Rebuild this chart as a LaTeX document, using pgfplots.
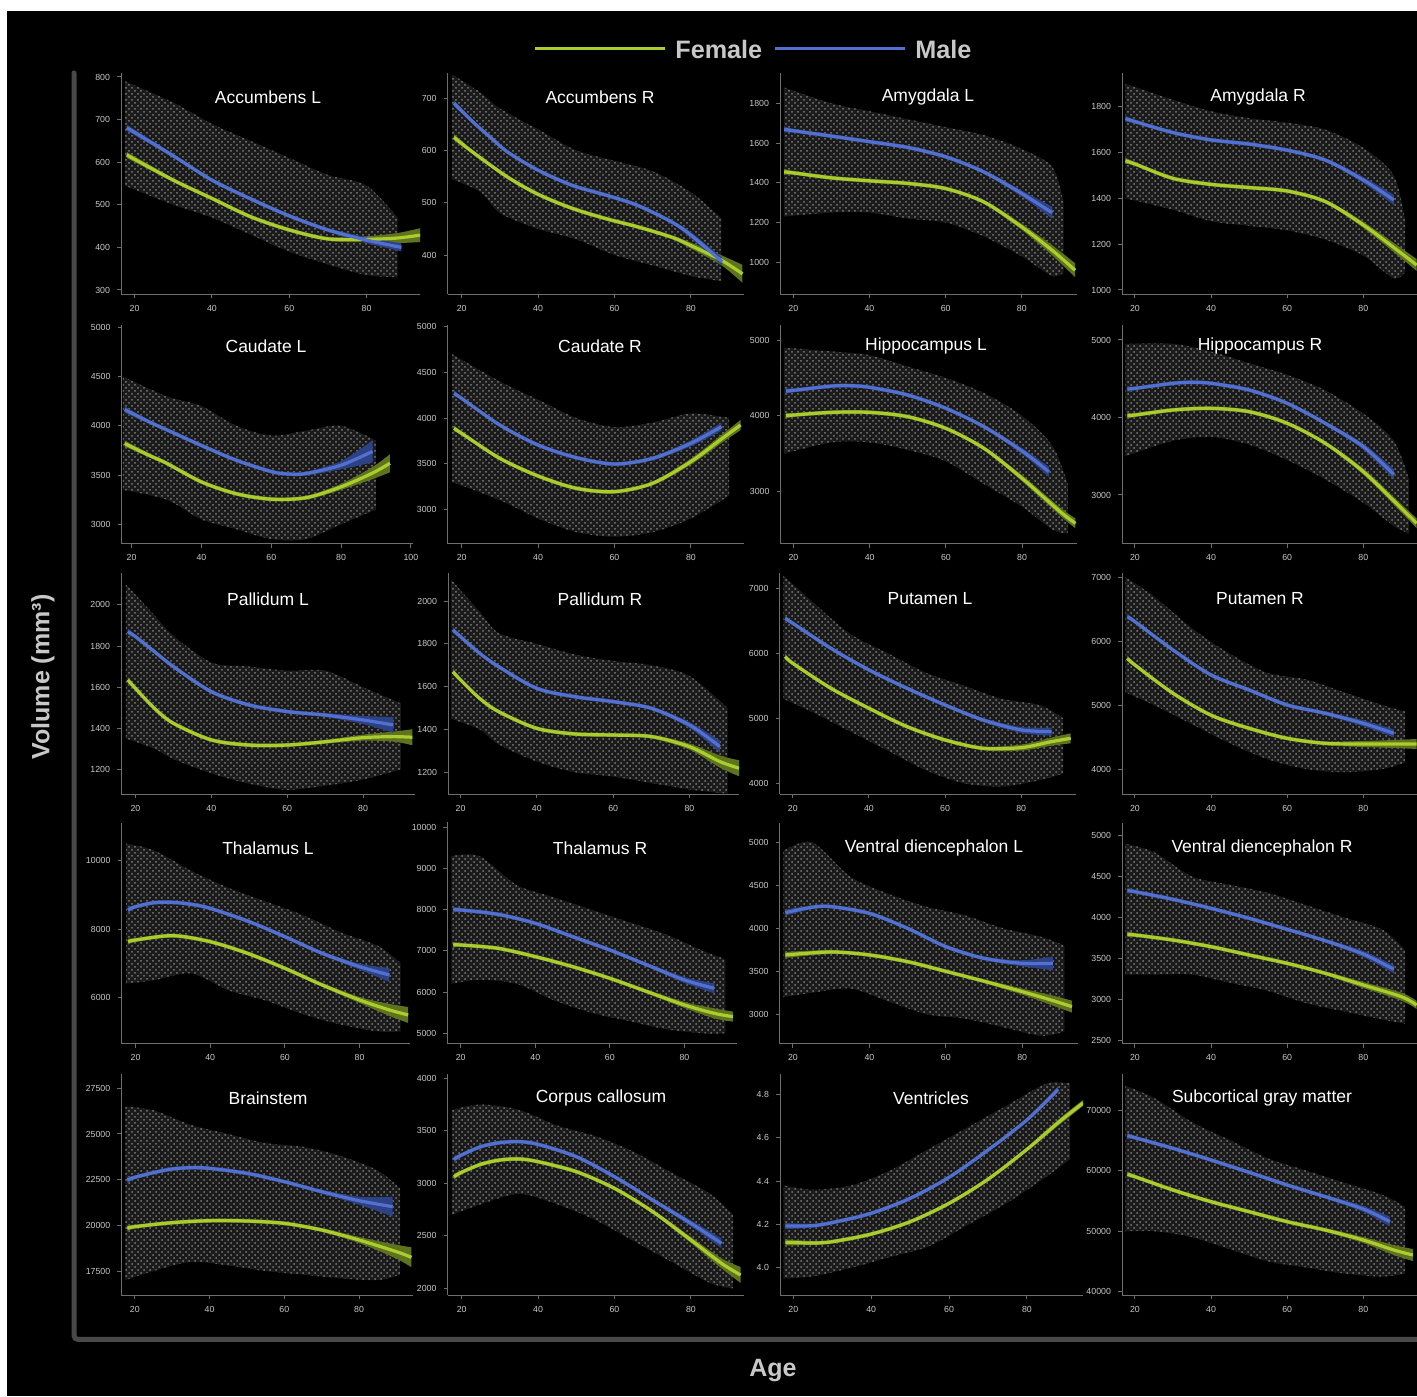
\documentclass[border=0pt]{standalone}
\usepackage{pgfplots}
\pgfplotsset{compat=1.18}
\usepgfplotslibrary{fillbetween}
\usetikzlibrary{patterns}
\usepackage{fontspec}
\setmainfont{Liberation Sans}
\definecolor{fgreen}{RGB}{170,205,45}
\definecolor{mblue}{RGB}{82,112,205}
\definecolor{fband}{RGB}{95,115,30}
\definecolor{mband}{RGB}{45,65,135}
\definecolor{cloudc}{RGB}{26,26,26}
\definecolor{dotc}{RGB}{125,125,125}
\definecolor{axc}{RGB}{110,110,110}
\definecolor{tickc}{RGB}{200,200,200}
\definecolor{framec}{RGB}{72,72,72}
\definecolor{labc}{RGB}{200,200,200}
\pgfplotsset{
 panel/.style={
  scale only axis, anchor=south west,
  axis x line*=bottom, axis y line*=left,
  axis line style={draw=axc, line width=0.5pt, -},
  tick style={draw=axc, line width=0.5pt},
  tick align=outside, major tick length=2pt,
  xtick={20,40,60,80},
  ticklabel style={font=\fontsize{4.4}{5}\selectfont, text=tickc},
  /pgf/number format/assume math mode=true,
  /pgf/number format/1000 sep={},
  scaled ticks=false,
 }
}
\newcommand{\cloud}[1]{%
 \addplot[draw=none, smooth, name path=cL] table[row sep=\\, x=x, y=lo] {#1};
 \addplot[draw=none, smooth, name path=cH] table[row sep=\\, x=x, y=hi] {#1};
 \addplot[fill=cloudc, draw=none, postaction={pattern=crosshatch dots, pattern color=dotc}] fill between[of=cL and cH];
}
\newcommand{\fit}[4]{%
 \addplot[draw=none, smooth, name path=#1U] table[row sep=\\, x=x, y expr=\thisrow{y}+\upp*\thisrow{e}] {#4};
 \addplot[draw=none, smooth, name path=#1L] table[row sep=\\, x=x, y expr=\thisrow{y}-\upp*\thisrow{e}] {#4};
 \addplot[fill=#3, draw=none] fill between[of=#1U and #1L];
 \addplot[draw=#2, line width=1.6pt, smooth] table[row sep=\\, x=x, y=y] {#4};
}
\begin{document}
\pagecolor{black}%
\begin{tikzpicture}
\fill[white] (0,0) rectangle (708.5pt,-5.5pt);
\fill[white] (0,0) rectangle (3.5pt,-698pt);
% frame
\draw[framec, line width=2.5pt, line cap=round, rounded corners=2pt] (37pt,-36.5pt) -- (37pt,-669.7pt) -- (712pt,-669.7pt);
% legend
\draw[fgreen, line width=1.5pt] (267.5pt,-24.5pt) -- (332.5pt,-24.5pt);
\node[anchor=west, inner sep=0pt, text=labc, font=\bfseries\fontsize{12.6}{14}\selectfont] at (337.5pt,-24.5pt) {Female};
\draw[mblue, line width=1.5pt] (387.5pt,-24.5pt) -- (452.5pt,-24.5pt);
\node[anchor=west, inner sep=0pt, text=labc, font=\bfseries\fontsize{12.6}{14}\selectfont] at (457.5pt,-24.5pt) {Male};
% axis labels
\node[rotate=90, text=labc, font=\bfseries\fontsize{12.5}{14}\selectfont] at (21.5pt,-338.5pt) {Volume (mm³)};
\node[text=labc, font=\bfseries\fontsize{12.5}{14}\selectfont] at (386.5pt,-685.5pt) {Age};

% ---------------- Row 1
\begin{axis}[panel, at={(60.5pt,-147pt)}, width=149.5pt, height=110.5pt,
  xmin=16.5, xmax=93.8, ymin=290.6, ymax=809.4, ytick={300,400,...,800}]
\def\upp{2.35}
\cloud{x lo hi\\ 17.5 545 790\\ 30 500 740\\ 40 470 690\\ 50 430 650\\ 60 390 610\\ 70 360 570\\ 80 335 545\\ 88 330 470\\}
\fit{f}{fgreen}{fband}{x y e\\ 18 617 3\\ 30 558 2\\ 40 515 2\\ 50 472 2\\ 60 441 2\\ 70 420 2\\ 80 419 3\\ 88 422 5\\ 94 429 7\\}
\fit{m}{mblue}{mband}{x y e\\ 18 681 3\\ 30 615 2\\ 40 558 2\\ 50 514 2\\ 60 474 2\\ 70 441 2\\ 80 417 3\\ 89 400 4\\}
\end{axis}

\begin{axis}[panel, at={(223.75pt,-147pt)}, width=148.25pt, height=110.5pt,
  xmin=16.3, xmax=93.9, ymin=325.5, ymax=747.8, ytick={400,500,600,700}]
\def\upp{1.91}
\cloud{x lo hi\\ 17.5 545 745\\ 25 520 710\\ 30 480 680\\ 40 450 640\\ 50 430 600\\ 60 400 580\\ 70 380 560\\ 80 360 520\\ 88 350 470\\}
\fit{f}{fgreen}{fband}{x y e\\ 18 625 3\\ 23 596 2\\ 32 549 2\\ 40 516 2\\ 49 489 2\\ 58 469 2\\ 66 454 2\\ 75 434 2\\ 80 418 3\\ 88 390 5\\ 93.5 364 9\\}
\fit{m}{mblue}{mband}{x y e\\ 18 690 3\\ 23 654 2\\ 27.5 625 2\\ 32 597 2\\ 40 562 2\\ 49 533 2\\ 58 514 2\\ 66 495 2\\ 75 463 2\\ 80 438 3\\ 88.2 387 4\\}
\end{axis}

\begin{axis}[panel, at={(390pt,-147pt)}, width=148.5pt, height=110.5pt,
  xmin=16.5, xmax=94.5, ymin=840.5, ymax=1952.5, ytick={1000,1200,...,1800}]
\def\upp{5.03}
\cloud{x lo hi\\ 17.5 1230 1880\\ 30 1250 1800\\ 40 1250 1760\\ 50 1220 1720\\ 60 1200 1680\\ 70 1130 1640\\ 80 1030 1570\\ 88 930 1480\\ 91 950 1300\\}
\fit{f}{fgreen}{fband}{x y e\\ 17.6 1455 3\\ 20 1450 2\\ 30 1425 2\\ 40 1410 2\\ 50 1397 2\\ 60 1371 2\\ 70 1304 2\\ 80 1178 3\\ 88 1060 5\\ 94 960 7\\}
\fit{m}{mblue}{mband}{x y e\\ 17.6 1669 3\\ 20 1662 2\\ 30 1635 2\\ 40 1607 2\\ 50 1578 2\\ 60 1531 2\\ 70 1455 2\\ 80 1346 3\\ 88 1249 6\\}
\end{axis}

\begin{axis}[panel, at={(561pt,-147pt)}, width=147.5pt, height=110.5pt,
  xmin=16.6, xmax=94.1, ymin=982.5, ymax=1947, ytick={1000,1200,...,1800}]
\def\upp{4.37}
\cloud{x lo hi\\ 17.5 1400 1900\\ 30 1350 1830\\ 40 1300 1780\\ 50 1280 1750\\ 60 1260 1730\\ 70 1220 1700\\ 80 1150 1620\\ 88 1050 1500\\ 91 1080 1300\\}
\fit{f}{fgreen}{fband}{x y e\\ 17.5 1564 3\\ 20 1550 2\\ 30 1487 2\\ 40 1461 2\\ 50 1447 2\\ 60 1432 2\\ 70 1386 2\\ 80 1284 3\\ 90 1160 5\\ 94 1109 6\\}
\fit{m}{mblue}{mband}{x y e\\ 17.5 1748 3\\ 20 1735 2\\ 30 1687 2\\ 40 1655 2\\ 50 1637 2\\ 60 1610 2\\ 70 1567 2\\ 80 1480 3\\ 88 1393 5\\}
\end{axis}

% ---------------- Row 2
\begin{axis}[panel, at={(60.75pt,-271.75pt)}, width=145.75pt, height=109.25pt,
  xmin=17.1, xmax=100.6, ymin=2805, ymax=5023, ytick={3000,3500,...,5000}, xtick={20,40,60,80,100}]
\def\upp{10.2}
\cloud{x lo hi\\ 17.5 3350 4500\\ 30 3250 4300\\ 40 3050 4200\\ 50 2950 4000\\ 60 2850 3900\\ 70 2850 3950\\ 80 3000 4000\\ 90 3150 3850\\}
\fit{f}{fgreen}{fband}{x y e\\ 18 3820 3\\ 25 3700 2\\ 30 3620 2\\ 40 3430 2\\ 50 3310 2\\ 60 3255 2\\ 70 3270 2\\ 80 3380 3\\ 89 3520 6\\ 94 3620 9\\}
\fit{m}{mblue}{mband}{x y e\\ 18 4165 3\\ 25 4040 2\\ 30 3960 2\\ 40 3800 2\\ 50 3650 2\\ 60 3535 2\\ 65 3510 2\\ 70 3515 2\\ 80 3600 4\\ 89 3740 11\\}
\end{axis}

\begin{axis}[panel, at={(223.75pt,-271.75pt)}, width=148.25pt, height=109.25pt,
  xmin=16.3, xmax=93.9, ymin=2625.4, ymax=5018.6, ytick={3000,3500,...,5000}]
\def\upp{11}
\cloud{x lo hi\\ 17.5 3300 4700\\ 30 3100 4400\\ 40 2900 4200\\ 50 2750 4000\\ 60 2700 3900\\ 70 2750 3950\\ 80 2900 4050\\ 90 3150 4000\\}
\fit{f}{fgreen}{fband}{x y e\\ 18 3887 3\\ 20 3832 2\\ 30 3558 2\\ 40 3365 2\\ 50 3230 2\\ 60 3193 2\\ 70 3285 2\\ 80 3522 3\\ 88 3770 4\\ 93 3923 5\\}
\fit{m}{mblue}{mband}{x y e\\ 18 4270 3\\ 20 4215 2\\ 30 3923 2\\ 40 3704 2\\ 50 3566 2\\ 60 3496 2\\ 70 3558 2\\ 80 3723 3\\ 88 3905 4\\}
\end{axis}

\begin{axis}[panel, at={(390.25pt,-271.75pt)}, width=148.25pt, height=109.25pt,
  xmin=16.6, xmax=94.4, ymin=2317, ymax=5198, ytick={3000,4000,5000}]
\def\upp{13.2}
\cloud{x lo hi\\ 17.5 3500 4900\\ 30 3650 4850\\ 40 3650 4800\\ 50 3550 4650\\ 60 3400 4500\\ 70 3100 4300\\ 80 2800 4000\\ 88 2500 3600\\ 92 2450 3100\\}
\fit{f}{fgreen}{fband}{x y e\\ 18 4002 3\\ 20 4011 2\\ 30 4046 2\\ 40 4046 2\\ 50 3989 2\\ 60 3835 2\\ 70 3571 2\\ 80 3176 3\\ 90 2736 4\\ 94 2582 5\\}
\fit{m}{mblue}{mband}{x y e\\ 18 4327 3\\ 20 4336 2\\ 30 4393 2\\ 35 4398 2\\ 40 4376 2\\ 50 4275 2\\ 60 4099 2\\ 70 3857 2\\ 80 3536 3\\ 87 3264 5\\}
\end{axis}

\begin{axis}[panel, at={(561pt,-271.75pt)}, width=147.5pt, height=109.25pt,
  xmin=16.6, xmax=94.1, ymin=2374, ymax=5193.5, ytick={3000,4000,5000}]
\def\upp{12.9}
\cloud{x lo hi\\ 17.5 3500 4950\\ 30 3700 4950\\ 40 3750 4850\\ 50 3650 4700\\ 60 3450 4550\\ 70 3200 4350\\ 80 2900 4050\\ 88 2600 3700\\ 92 2500 3200\\}
\fit{f}{fgreen}{fband}{x y e\\ 18 4024 3\\ 20 4032 2\\ 30 4097 2\\ 40 4118 2\\ 50 4075 2\\ 60 3925 2\\ 70 3667 2\\ 80 3301 3\\ 90 2828 4\\ 94 2634 5\\}
\fit{m}{mblue}{mband}{x y e\\ 18 4368 3\\ 20 4376 2\\ 30 4441 2\\ 35 4454 2\\ 40 4441 2\\ 50 4355 2\\ 60 4183 2\\ 70 3925 2\\ 80 3624 3\\ 88 3267 5\\}
\end{axis}

% ---------------- Row 3
\begin{axis}[panel, at={(60.5pt,-397pt)}, width=147pt, height=110.35pt,
  xmin=16.2, xmax=93.7, ymin=1079.7, ymax=2154, ytick={1200,1400,...,2000}]
\def\upp{4.87}
\cloud{x lo hi\\ 17.5 1350 2100\\ 25 1300 1950\\ 30 1250 1850\\ 40 1180 1720\\ 50 1130 1700\\ 60 1100 1680\\ 70 1120 1680\\ 80 1150 1600\\ 90 1200 1520\\}
\fit{f}{fgreen}{fband}{x y e\\ 18 1635 3\\ 20 1594 2\\ 25 1497 2\\ 30 1424 2\\ 40 1343 2\\ 50 1318 2\\ 60 1318 2\\ 70 1334 2\\ 80 1354 3\\ 88 1359 5\\ 93 1356 8\\}
\fit{m}{mblue}{mband}{x y e\\ 18 1870 3\\ 20 1846 2\\ 25 1773 2\\ 30 1700 2\\ 40 1578 2\\ 50 1513 2\\ 60 1481 2\\ 70 1464 2\\ 80 1440 4\\ 88 1416 8\\}
\end{axis}

\begin{axis}[panel, at={(224pt,-397pt)}, width=145.5pt, height=110.35pt,
  xmin=16.7, xmax=93.0, ymin=1098.6, ymax=2129.4, ytick={1200,1400,...,2000}]
\def\upp{4.67}
\cloud{x lo hi\\ 17.5 1450 2100\\ 25 1400 1950\\ 30 1330 1850\\ 40 1250 1800\\ 50 1200 1750\\ 60 1180 1720\\ 70 1150 1700\\ 80 1120 1650\\ 90 1100 1500\\}
\fit{f}{fgreen}{fband}{x y e\\ 18 1670 3\\ 20 1631 2\\ 25 1545 2\\ 30 1483 2\\ 40 1405 2\\ 50 1379 2\\ 60 1374 2\\ 70 1367 2\\ 80 1320 3\\ 88 1250 6\\ 93 1219 8\\}
\fit{m}{mblue}{mband}{x y e\\ 18 1865 3\\ 20 1833 2\\ 25 1756 2\\ 30 1693 2\\ 40 1592 2\\ 50 1553 2\\ 60 1530 2\\ 70 1499 2\\ 80 1421 3\\ 88 1320 6\\}
\end{axis}

\begin{axis}[panel, at={(389.75pt,-397pt)}, width=148.25pt, height=110.35pt,
  xmin=16.5, xmax=94.4, ymin=3835, ymax=7231, ytick={4000,5000,6000,7000}]
\def\upp{15.4}
\cloud{x lo hi\\ 17.5 5300 7200\\ 25 5100 6800\\ 35 4800 6300\\ 45 4500 6000\\ 55 4200 5700\\ 65 4000 5500\\ 75 3950 5300\\ 85 4050 5200\\ 91 4150 5000\\}
\fit{f}{fgreen}{fband}{x y e\\ 18 5949 3\\ 20 5846 2\\ 30 5462 2\\ 40 5154 2\\ 50 4872 2\\ 60 4667 2\\ 70 4538 2\\ 80 4549 3\\ 88 4641 4\\ 93 4692 5\\}
\fit{m}{mblue}{mband}{x y e\\ 18 6538 3\\ 20 6462 2\\ 30 6077 2\\ 40 5744 2\\ 50 5462 2\\ 60 5205 2\\ 70 4974 2\\ 80 4821 3\\ 88 4795 4\\}
\end{axis}

\begin{axis}[panel, at={(561pt,-397pt)}, width=147.5pt, height=110.35pt,
  xmin=16.6, xmax=94.1, ymin=3609, ymax=7062.6, ytick={4000,5000,6000,7000}]
\def\upp{15.6}
\cloud{x lo hi\\ 17.5 5200 7000\\ 25 5000 6700\\ 35 4700 6200\\ 45 4400 5800\\ 55 4150 5500\\ 65 4000 5400\\ 75 3950 5200\\ 85 4000 5000\\ 91 4100 4900\\}
\fit{f}{fgreen}{fband}{x y e\\ 18 5732 3\\ 20 5628 2\\ 30 5185 2\\ 40 4842 2\\ 50 4637 2\\ 60 4480 2\\ 70 4402 2\\ 80 4392 3\\ 88 4392 4\\ 94 4392 5\\}
\fit{m}{mblue}{mband}{x y e\\ 18 6384 3\\ 20 6306 2\\ 30 5863 2\\ 40 5472 2\\ 50 5237 2\\ 60 5002 2\\ 70 4872 2\\ 80 4715 3\\ 88 4559 4\\}
\end{axis}

% ---------------- Row 4
\begin{axis}[panel, at={(60.75pt,-521.75pt)}, width=144.25pt, height=110.5pt,
  xmin=16.25, xmax=93.5, ymin=4647, ymax=11118.6, ytick={6000,8000,10000}]
\def\upp{29.3}
\cloud{x lo hi\\ 17.5 6400 10500\\ 25 6500 10300\\ 35 6700 9700\\ 45 6200 9200\\ 55 5900 8800\\ 65 5500 8400\\ 75 5200 7900\\ 85 5000 7500\\ 91 5000 7000\\}
\fit{f}{fgreen}{fband}{x y e\\ 18 7629 3\\ 20 7678 2\\ 30 7805 2\\ 40 7629 2\\ 50 7288 2\\ 60 6849 2\\ 70 6361 2\\ 80 5922 3\\ 88 5629 6\\ 93 5483 8\\}
\fit{m}{mblue}{mband}{x y e\\ 18 8556 3\\ 20 8654 2\\ 25 8771 2\\ 30 8780 2\\ 35 8722 2\\ 40 8605 2\\ 50 8234 2\\ 60 7776 2\\ 70 7288 2\\ 80 6898 3\\ 88 6654 7\\}
\end{axis}

\begin{axis}[panel, at={(223.65pt,-521.75pt)}, width=144.85pt, height=110.5pt,
  xmin=16.4, xmax=94.1, ymin=4752.4, ymax=10116.5, ytick={5000,6000,...,10000}]
\def\upp{24.3}
\cloud{x lo hi\\ 17.5 6200 9300\\ 25 6300 9300\\ 35 6200 8600\\ 45 5800 8300\\ 55 5500 8000\\ 65 5300 7700\\ 75 5100 7400\\ 85 5000 7000\\ 91 5000 6800\\}
\fit{f}{fgreen}{fband}{x y e\\ 18 7144 3\\ 20 7144 2\\ 30 7063 2\\ 40 6861 2\\ 50 6618 2\\ 60 6335 2\\ 70 6011 2\\ 80 5688 3\\ 88 5485 5\\ 93 5405 5\\}
\fit{m}{mblue}{mband}{x y e\\ 18 7994 3\\ 20 7994 2\\ 30 7888 2\\ 40 7670 2\\ 50 7346 2\\ 60 7023 2\\ 70 6659 2\\ 80 6294 3\\ 88 6092 5\\}
\end{axis}

\begin{axis}[panel, at={(389.8pt,-521.75pt)}, width=149.2pt, height=110.5pt,
  xmin=16.5, xmax=94.6, ymin=2660.5, ymax=5230, ytick={3000,3500,...,5000}]
\def\upp{11.6}
\cloud{x lo hi\\ 17.5 3200 4900\\ 25 3250 5000\\ 35 3300 4600\\ 45 3150 4400\\ 55 3000 4250\\ 65 2950 4150\\ 75 2850 4000\\ 85 2750 3900\\ 91 2800 3800\\}
\fit{f}{fgreen}{fband}{x y e\\ 18 3690 3\\ 30 3725 2\\ 40 3690 2\\ 50 3612 2\\ 60 3500 2\\ 70 3385 2\\ 80 3264 3\\ 88 3160 5\\ 93 3089 6\\}
\fit{m}{mblue}{mband}{x y e\\ 18 4182 3\\ 25 4245 2\\ 30 4252 2\\ 40 4174 2\\ 50 4000 2\\ 60 3787 2\\ 70 3651 2\\ 80 3593 3\\ 88 3593 7\\}
\end{axis}

\begin{axis}[panel, at={(561pt,-521.75pt)}, width=147.5pt, height=110.5pt,
  xmin=16.6, xmax=94.1, ymin=2457, ymax=5161.5, ytick={2500,3000,...,5000}]
\def\upp{12.2}
\cloud{x lo hi\\ 17.5 3300 4900\\ 25 3300 4800\\ 35 3300 4500\\ 45 3200 4400\\ 55 3100 4300\\ 65 2950 4150\\ 75 2850 4000\\ 85 2750 3850\\ 91 2700 3600\\}
\fit{f}{fgreen}{fband}{x y e\\ 18 3793 3\\ 20 3785 2\\ 30 3723 2\\ 40 3642 2\\ 50 3540 2\\ 60 3438 2\\ 70 3316 2\\ 80 3173 3\\ 90 3030 4\\ 94 2928 4\\}
\fit{m}{mblue}{mband}{x y e\\ 18 4327 3\\ 20 4315 2\\ 30 4221 2\\ 40 4111 2\\ 50 3989 2\\ 60 3854 2\\ 70 3715 2\\ 80 3552 3\\ 88 3365 4\\}
\end{axis}

% ---------------- Row 5
\begin{axis}[panel, at={(60.65pt,-647.5pt)}, width=146pt, height=110.5pt,
  xmin=16.4, xmax=94.5, ymin=16186, ymax=28283, ytick={17500,20000,...,27500}]
\def\upp{54.7}
\cloud{x lo hi\\ 17.5 17000 26500\\ 25 17500 26300\\ 35 18000 25500\\ 45 17800 25000\\ 55 17500 24500\\ 65 17300 24300\\ 75 17100 23800\\ 85 17000 23000\\ 91 17300 22000\\}
\fit{f}{fgreen}{fband}{x y e\\ 18 19836 3\\ 20 19927 2\\ 30 20146 2\\ 40 20255 2\\ 50 20237 2\\ 60 20109 2\\ 70 19745 2\\ 80 19197 3\\ 90 18558 7\\ 94 18248 10\\}
\fit{m}{mblue}{mband}{x y e\\ 18 22480 3\\ 20 22628 2\\ 25 22883 2\\ 30 23084 2\\ 35 23157 2\\ 40 23120 2\\ 50 22847 2\\ 60 22390 2\\ 70 21843 2\\ 80 21350 4\\ 89 21022 10\\}
\end{axis}

\begin{axis}[panel, at={(223.75pt,-647.5pt)}, width=148.25pt, height=110.5pt,
  xmin=16.3, xmax=93.9, ymin=1936, ymax=4041, ytick={2000,2500,...,4000}]
\def\upp{9.5}
\cloud{x lo hi\\ 17.5 2700 3700\\ 25 2800 3750\\ 35 2900 3700\\ 45 2800 3550\\ 55 2650 3450\\ 65 2450 3300\\ 75 2250 3100\\ 85 2050 2900\\ 91 2000 2700\\}
\fit{f}{fgreen}{fband}{x y e\\ 18 3063 3\\ 20 3105 2\\ 25 3181 2\\ 30 3222 2\\ 35 3232 2\\ 40 3206 2\\ 50 3111 2\\ 60 2952 2\\ 70 2730 2\\ 80 2460 3\\ 88 2238 5\\ 93 2127 8\\}
\fit{m}{mblue}{mband}{x y e\\ 18 3229 3\\ 20 3270 2\\ 25 3349 2\\ 30 3387 2\\ 35 3397 2\\ 40 3371 2\\ 50 3254 2\\ 60 3063 2\\ 70 2841 2\\ 80 2619 3\\ 88 2429 5\\}
\end{axis}

\begin{axis}[panel, at={(390pt,-647.5pt)}, width=151.5pt, height=110.5pt,
  xmin=16.6, xmax=94.4, ymin=3.874, ymax=4.8937, ytick={4.0,4.2,4.4,4.6,4.8},
  yticklabel style={/pgf/number format/.cd, fixed, fixed zerofill, precision=1}]
\def\upp{0.00461}
\cloud{x lo hi\\ 17.5 3.95 4.38\\ 25 3.96 4.36\\ 35 4.0 4.38\\ 45 4.05 4.45\\ 55 4.1 4.55\\ 65 4.2 4.65\\ 75 4.3 4.75\\ 85 4.42 4.85\\ 91 4.5 4.85\\}
\fit{f}{fgreen}{fband}{x y e\\ 18 4.117 3\\ 25 4.114 2\\ 30 4.12 2\\ 40 4.155 2\\ 50 4.212 2\\ 60 4.297 2\\ 70 4.408 2\\ 80 4.546 2\\ 88 4.669 3\\ 94.4 4.76 3\\}
\fit{m}{mblue}{mband}{x y e\\ 18 4.192 3\\ 25 4.194 2\\ 30 4.208 2\\ 40 4.251 2\\ 50 4.32 2\\ 60 4.417 2\\ 70 4.543 2\\ 80 4.682 2\\ 88 4.823 3\\}
\end{axis}

\begin{axis}[panel, at={(561pt,-647.5pt)}, width=147.5pt, height=110.5pt,
  xmin=16.6, xmax=94.1, ymin=39455, ymax=75944, ytick={40000,50000,60000,70000}]
\def\upp{165}
\cloud{x lo hi\\ 17.5 50000 74000\\ 25 50000 72000\\ 35 49000 68000\\ 45 47000 65000\\ 55 45000 62000\\ 65 44000 60000\\ 75 43000 58000\\ 85 42500 56000\\ 91 43000 54000\\}
\fit{f}{fgreen}{fband}{x y e\\ 18 59378 3\\ 20 58993 2\\ 30 56792 2\\ 40 54865 2\\ 50 53214 2\\ 60 51563 2\\ 70 50187 2\\ 80 48536 3\\ 88 46885 5\\ 93 46060 6\\}
\fit{m}{mblue}{mband}{x y e\\ 18 65762 3\\ 20 65432 2\\ 30 63671 2\\ 40 61745 2\\ 50 59708 2\\ 60 57617 2\\ 70 55691 2\\ 80 53654 3\\ 87 51563 5\\}
\end{axis}

% titles
\begin{scope}[every node/.style={text=white, font=\fontsize{8.75}{10}\selectfont}]
\node at (134pt,-48.5pt) {Accumbens L};
\node at (300pt,-48.5pt) {Accumbens R};
\node at (464pt,-48.5pt) {Amygdala L};
\node at (629pt,-48.5pt) {Amygdala R};
\node at (133pt,-173pt) {Caudate L};
\node at (300pt,-173pt) {Caudate R};
\node at (463pt,-173pt) {Hippocampus L};
\node at (630pt,-173pt) {Hippocampus R};
\node at (134pt,-299.5pt) {Pallidum L};
\node at (300pt,-299.5pt) {Pallidum R};
\node at (465pt,-299.5pt) {Putamen L};
\node at (630pt,-299.5pt) {Putamen R};
\node at (134pt,-424pt) {Thalamus L};
\node at (300pt,-424pt) {Thalamus R};
\node at (467pt,-424pt) {Ventral diencephalon L};
\node at (631pt,-424pt) {Ventral diencephalon R};
\node at (134pt,-549pt) {Brainstem};
\node at (300.5pt,-549pt) {Corpus callosum};
\node at (465.5pt,-549pt) {Ventricles};
\node at (631pt,-549pt) {Subcortical gray matter};
\end{scope}
\pgfresetboundingbox
\path (0,0) rectangle (708.5pt,-698pt);
\end{tikzpicture}
\end{document}
